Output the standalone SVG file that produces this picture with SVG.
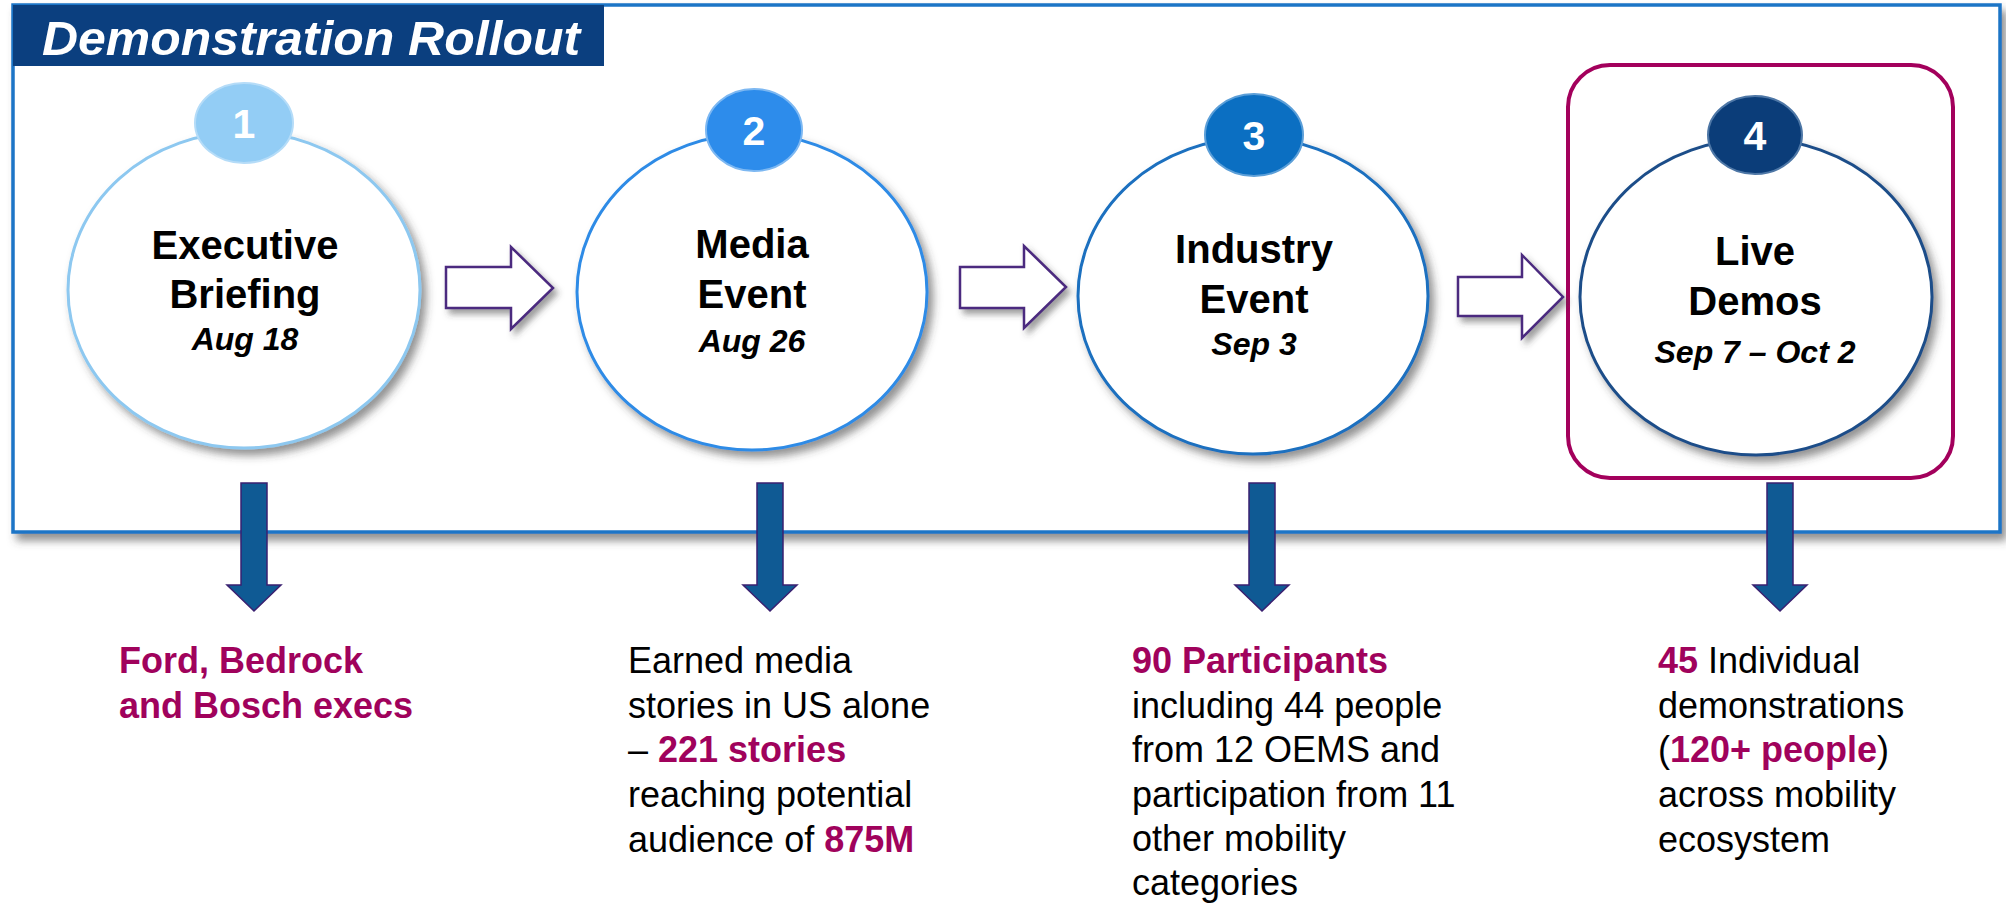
<svg xmlns="http://www.w3.org/2000/svg" width="2006" height="904" viewBox="0 0 2006 904">
<defs>
<filter id="shFrame" x="-5%" y="-5%" width="110%" height="115%">
<feDropShadow dx="5" dy="7" stdDeviation="4" flood-color="#4a4a4a" flood-opacity="0.6"/>
</filter>
<filter id="sh" x="-20%" y="-20%" width="140%" height="140%">
<feDropShadow dx="5" dy="6" stdDeviation="4" flood-color="#3a3a3a" flood-opacity="0.55"/>
</filter>
<filter id="shA" x="-20%" y="-30%" width="140%" height="160%">
<feDropShadow dx="4" dy="5" stdDeviation="3" flood-color="#3a3a3a" flood-opacity="0.5"/>
</filter>
</defs>
<style>
.lbl{font-family:"Liberation Sans",Arial,sans-serif;font-weight:bold;font-size:40px;fill:#000;text-anchor:middle}
.date{font-family:"Liberation Sans",Arial,sans-serif;font-weight:bold;font-style:italic;font-size:32px;fill:#000;text-anchor:middle}
.num{font-family:"Liberation Sans",Arial,sans-serif;font-weight:bold;font-size:41px;fill:#fff;text-anchor:middle}
.body{font-family:"Liberation Sans",Arial,sans-serif;font-size:36px;fill:#000}
.hl{font-weight:bold;fill:#A0025C}
.ell{fill:#fff;stroke-width:3}
.hollow{fill:#fff;stroke:#4B2A7F;stroke-width:2.5}
.down{fill:#0F5A94;stroke:#3A2070;stroke-width:1.5}
</style>
<rect width="2006" height="904" fill="#fff"/>

<g id="frame">
<rect x="13" y="5" width="1987" height="527" fill="#fff" stroke="#1C74C6" stroke-width="3.5" filter="url(#shFrame)"/>
</g>

<g id="title">
<rect x="13" y="5" width="591" height="61" fill="#0B3F7F"/>
<text x="42" y="55" font-family="'Liberation Sans',Arial,sans-serif" font-weight="bold" font-style="italic" font-size="48" fill="#fff" textLength="538" lengthAdjust="spacingAndGlyphs">Demonstration Rollout</text>
</g>

<g id="highlight-box">
<rect x="1568" y="65" width="385" height="413" rx="42" ry="42" fill="none" stroke="#A3005C" stroke-width="4"/>
</g>

<g id="node-1">
<ellipse class="ell" cx="244" cy="290" rx="176" ry="158" stroke="#8DC8F0" filter="url(#sh)"/>
<ellipse cx="244" cy="123" rx="49" ry="40" fill="#93CDF5" stroke="#B5DCF8" stroke-width="2"/>
<text class="num" x="244" y="138">1</text>
<text class="lbl" x="245" y="259">Executive</text>
<text class="lbl" x="245" y="308">Briefing</text>
<text class="date" x="245" y="350">Aug 18</text>
</g>

<g id="node-2">
<ellipse class="ell" cx="752" cy="292" rx="175" ry="158" stroke="#2E8BE6" filter="url(#sh)"/>
<ellipse cx="754" cy="130" rx="48" ry="41" fill="#2D8CEB" stroke="#7DB8F2" stroke-width="2"/>
<text class="num" x="754" y="145">2</text>
<text class="lbl" x="752" y="258">Media</text>
<text class="lbl" x="752" y="308">Event</text>
<text class="date" x="752" y="352">Aug 26</text>
</g>

<g id="node-3">
<ellipse class="ell" cx="1253" cy="296" rx="175" ry="158" stroke="#1A6FBF" filter="url(#sh)"/>
<ellipse cx="1254" cy="135" rx="49" ry="41" fill="#0B6FC2" stroke="#5C9FD8" stroke-width="2"/>
<text class="num" x="1254" y="150">3</text>
<text class="lbl" x="1254" y="263">Industry</text>
<text class="lbl" x="1254" y="313">Event</text>
<text class="date" x="1254" y="355">Sep 3</text>
</g>

<g id="node-4">
<ellipse class="ell" cx="1756" cy="297" rx="176" ry="158" stroke="#1D4E89" stroke-width="2.5" filter="url(#sh)"/>
<ellipse cx="1755" cy="135" rx="47" ry="39" fill="#0B3D79" stroke="#4E77A6" stroke-width="2"/>
<text class="num" x="1755" y="150">4</text>
<text class="lbl" x="1755" y="265">Live</text>
<text class="lbl" x="1755" y="315">Demos</text>
<text class="date" x="1755" y="363">Sep 7 – Oct 2</text>
</g>

<g id="connectors">
<polygon class="hollow" filter="url(#shA)" points="446,267 511,267 511,247 553,288 511,329 511,308 446,308"/>
<polygon class="hollow" filter="url(#shA)" points="960,267 1024,267 1024,246 1066,287 1024,328 1024,308 960,308"/>
<polygon class="hollow" filter="url(#shA)" points="1458,277 1522,277 1522,255 1563,297 1522,338 1522,316 1458,316"/>
<polygon class="down" points="241,483 267,483 267,585 281,585 254,611 227,585 241,585"/>
<polygon class="down" points="757,483 783,483 783,585 797,585 770,611 743,585 757,585"/>
<polygon class="down" points="1249,483 1275,483 1275,585 1289,585 1262,611 1235,585 1249,585"/>
<polygon class="down" points="1767,483 1793,483 1793,585 1807,585 1780,611 1753,585 1767,585"/>
</g>

<g id="result-1">
<text class="body hl" x="119" y="673">Ford, Bedrock</text>
<text class="body hl" x="119" y="718">and Bosch execs</text>
</g>

<g id="result-2">
<text class="body" x="628" y="673">Earned media</text>
<text class="body" x="628" y="718">stories in US alone</text>
<text class="body" x="628" y="762">– <tspan class="hl">221 stories</tspan></text>
<text class="body" x="628" y="807">reaching potential</text>
<text class="body" x="628" y="852">audience of <tspan class="hl">875M</tspan></text>
</g>

<g id="result-3">
<text class="body hl" x="1132" y="673">90 Participants</text>
<text class="body" x="1132" y="718">including 44 people</text>
<text class="body" x="1132" y="762">from 12 OEMS and</text>
<text class="body" x="1132" y="807">participation from 11</text>
<text class="body" x="1132" y="851">other mobility</text>
<text class="body" x="1132" y="895">categories</text>
</g>

<g id="result-4">
<text class="body" x="1658" y="673"><tspan class="hl">45</tspan> Individual</text>
<text class="body" x="1658" y="718">demonstrations</text>
<text class="body" x="1658" y="762">(<tspan class="hl">120+ people</tspan>)</text>
<text class="body" x="1658" y="807">across mobility</text>
<text class="body" x="1658" y="852">ecosystem</text>
</g>
</svg>
